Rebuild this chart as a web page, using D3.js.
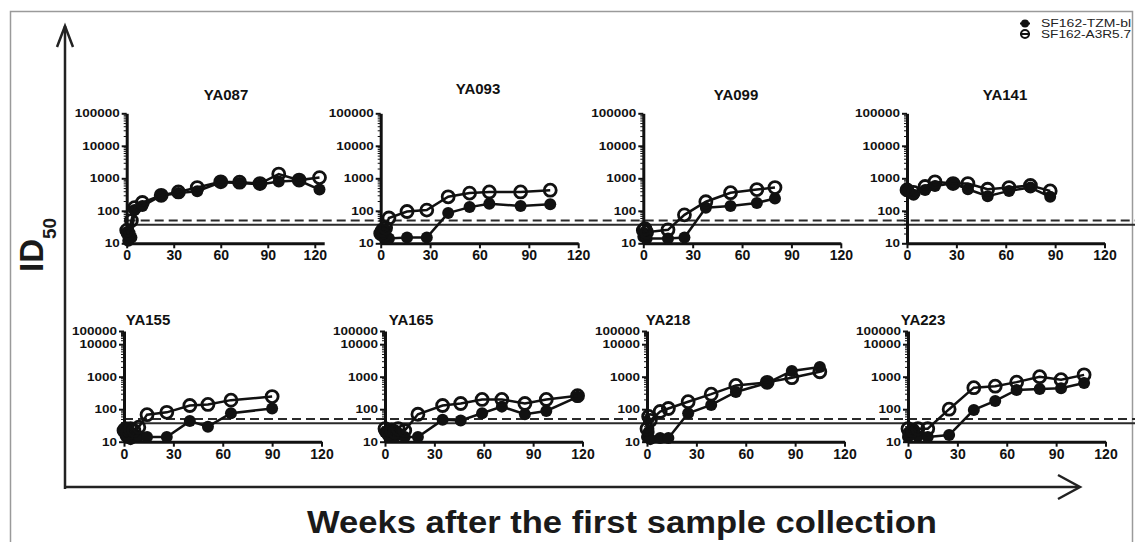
<!DOCTYPE html>
<html><head><meta charset="utf-8">
<script src="https://cdn.jsdelivr.net/npm/d3@7"></script>
<style>
html,body{margin:0;padding:0;background:#fff;}
svg{display:block;font-family:"Liberation Sans",Arial,Helvetica,sans-serif;}
</style></head>
<body><svg id="chart" width="1135" height="542"></svg>
<script>
// ---------- data ----------
const panelNames = ["YA087","YA093","YA099","YA141","YA155","YA165","YA218","YA223"];
const seriesNames = ["SF162-TZM-bl","SF162-A3R5.7"];
const xTickValues = [0,30,60,90,120];
const yTickValues = [10,100,1000,10000,100000];
const cutoffDashed = 50;
const cutoffSolid = 37;

const ya087Weeks = [0,1,3,5,10,22,33,45,60,72,85,97,110,123];
const ya087Tzm   = [22,12,15,105,140,290,350,400,750,720,650,800,850,450];
const ya087A3r   = [25,20,50,125,180,300,380,520,780,760,690,1350,880,1050];

const ya093Weeks = [0,1,2,3,5,16,28,41,54,66,85,103];
const ya093Tzm   = [22,18,15,25,14,15,15,85,130,165,140,160];
const ya093A3r   = [20,25,18,30,60,95,105,270,350,380,380,430];

const ya099Weeks = [0,1,2,15,25,38,53,69,80];
const ya099Tzm   = [16,20,14,14,15,125,140,175,240];
const ya099A3r   = [25,28,22,26,75,190,360,450,520];

const ya141Weeks = [0,4,11,17,28,37,49,62,75,87];
const ya141Tzm   = [420,310,440,580,700,460,280,410,520,270];
const ya141A3r   = [440,370,560,780,690,690,460,520,600,410];

const ya155Weeks = [0,1,2,4,6,9,14,26,40,51,65,90];
const ya155Tzm   = [25,15,20,12,18,15,14,14,43,29,75,105];
const ya155A3r   = [22,25,18,25,22,28,68,80,130,140,190,245];

const ya165Weeks = [0,2,4,6,8,12,20,35,46,59,71,85,98,117];
const ya165Tzm   = [20,15,25,14,18,14,14,47,45,75,120,70,88,240];
const ya165A3r   = [25,18,22,20,25,22,70,130,150,200,200,150,200,260];

const ya218Weeks = [0,1,2,8,13,25,39,54,73,88,105];
const ya218Tzm   = [14,20,12,13,13,75,135,340,640,1500,2000];
const ya218A3r   = [25,60,45,85,105,170,290,540,670,930,1420];

const ya223Weeks = [0,1,3,6,12,25,40,53,66,80,93,107];
const ya223Tzm   = [14,20,25,15,14,16,95,180,390,420,440,640];
const ya223A3r   = [25,18,22,25,25,100,460,510,680,1000,810,1140];

const allWeeks = [ya087Weeks,ya093Weeks,ya099Weeks,ya141Weeks,ya155Weeks,ya165Weeks,ya218Weeks,ya223Weeks];
const allTzm   = [ya087Tzm,ya093Tzm,ya099Tzm,ya141Tzm,ya155Tzm,ya165Tzm,ya218Tzm,ya223Tzm];
const allA3r   = [ya087A3r,ya093A3r,ya099A3r,ya141A3r,ya155A3r,ya165A3r,ya218A3r,ya223A3r];
const xMaxes   = [126,120,120,120,120,120,120,120];

// ---------- layout ----------
const svg = d3.select("#chart");
const FONT = '"Liberation Sans",Arial,Helvetica,sans-serif';
const axisX0 = [126.7,380.7,643.3,907,124,385,647,908];
const axisLen = 197.5;
const rowY = [
  {range:[243.3,210.8,178.3,145.8,113.3]},
  {range:[441.7,409.2,376.7,344.2,331]}
];
const titlePos = [[226,100],[478,94],[736,100],[1005,100],[148,325],[411,325],[668,325],[923,325]];

svg.append("rect").attr("x",0).attr("y",0).attr("width",1135).attr("height",542).attr("fill","#fff");
svg.append("rect").attr("x",10.5).attr("y",11.5).attr("width",1122).attr("height",620)
  .attr("fill","none").attr("stroke","#9a9a9a").attr("stroke-width",1.5);

// minor tick values
const minorTicks = [];
for (let k=1;k<5;k++) for (let m=2;m<10;m++) minorTicks.push(m*Math.pow(10,k));

// cutoff lines per row
rowY.forEach((r,ri)=>{
  const y = d3.scaleLog().domain(yTickValues).range(r.range);
  const x0 = axisX0[ri*4];
  svg.append("line").attr("x1",x0).attr("x2",1135).attr("y1",y(cutoffDashed)).attr("y2",y(cutoffDashed))
    .attr("stroke","#2a2a2a").attr("stroke-width",2).attr("stroke-dasharray","9,5");
  svg.append("line").attr("x1",x0).attr("x2",1135).attr("y1",y(cutoffSolid)).attr("y2",y(cutoffSolid))
    .attr("stroke","#2a2a2a").attr("stroke-width",2);
});

panelNames.forEach((name,i)=>{
  const row = Math.floor(i/4);
  const x = d3.scaleLinear().domain([0,xMaxes[i]]).range([axisX0[i],axisX0[i]+axisLen]);
  const y = d3.scaleLog().domain(yTickValues).range(rowY[row].range);
  const g = svg.append("g");

  // minor y ticks
  const minor = g.append("g").attr("transform",`translate(${axisX0[i]},0)`)
    .call(d3.axisLeft(y).tickValues(minorTicks).tickSize(3).tickFormat(""));
  minor.select(".domain").remove();
  minor.selectAll("line").attr("stroke","#111").attr("stroke-width",1);

  const ya = g.append("g").attr("transform",`translate(${axisX0[i]},0)`)
    .call(d3.axisLeft(y).tickValues(yTickValues).tickSize(5).tickSizeOuter(0).tickPadding(2).tickFormat(d3.format("d")));
  ya.select(".domain").attr("stroke","#111").attr("stroke-width",3);
  ya.selectAll(".tick line").attr("stroke","#111").attr("stroke-width",2);
  ya.selectAll("text").attr("font-family",FONT).attr("font-weight","bold").attr("font-size",11.5).attr("fill","#111")
    .attr("textLength",d=>String(d).length*7.5).attr("lengthAdjust","spacingAndGlyphs");

  const xa = g.append("g").attr("transform",`translate(0,${y(10)})`)
    .call(d3.axisBottom(x).tickValues(xTickValues).tickSize(5).tickSizeOuter(0).tickPadding(2));
  xa.select(".domain").attr("stroke","#111").attr("stroke-width",3);
  xa.selectAll(".tick line").attr("stroke","#111").attr("stroke-width",2);
  xa.selectAll("text").attr("font-family",FONT).attr("font-weight","bold").attr("font-size",14).attr("fill","#111");

  g.append("text").attr("x",titlePos[i][0]).attr("y",titlePos[i][1]).attr("text-anchor","middle")
    .attr("font-family",FONT).attr("font-weight","bold").attr("font-size",15).attr("fill","#111").text(name);

  const wk = allWeeks[i];
  const tz = wk.map((w,j)=>[w,allTzm[i][j]]);
  const a3 = wk.map((w,j)=>[w,allA3r[i][j]]);
  const line = d3.line().x(d=>x(d[0])).y(d=>y(d[1]));

  g.append("path").datum(tz).attr("d",line).attr("fill","none").attr("stroke","#111").attr("stroke-width",2.5);
  g.selectAll(".tz").data(tz).join("circle").attr("class","tz")
    .attr("cx",d=>x(d[0])).attr("cy",d=>y(d[1])).attr("r",6).attr("fill","#111");
  g.append("path").datum(a3).attr("d",line).attr("fill","none").attr("stroke","#111").attr("stroke-width",2.5);
  g.selectAll(".a3").data(a3).join("circle").attr("class","a3")
    .attr("cx",d=>x(d[0])).attr("cy",d=>y(d[1])).attr("r",6).attr("fill","none")
    .attr("stroke","#111").attr("stroke-width",2.8);
});

// big axes with arrows
const big = svg.append("g").attr("stroke","#222").attr("stroke-width",2.5).attr("fill","none");
big.append("line").attr("x1",65).attr("y1",489).attr("x2",65).attr("y2",26);
big.append("polyline").attr("points","57,47 65,26 73,47");
big.append("line").attr("x1",64).attr("y1",487).attr("x2",1079).attr("y2",487);
big.append("polyline").attr("points","1058,475 1080,487 1058,499");

// axis titles
svg.append("text").attr("x",622).attr("y",533).attr("text-anchor","middle")
  .attr("font-family",FONT).attr("font-weight","bold").attr("font-size",32).attr("fill","#1a1a1a")
  .attr("textLength",630).attr("lengthAdjust","spacingAndGlyphs")
  .text("Weeks after the first sample collection");
const idl = svg.append("text").attr("transform","translate(43,272) rotate(-90)")
  .attr("font-family",FONT).attr("font-weight","bold").attr("font-size",33).attr("fill","#1a1a1a");
idl.append("tspan").text("ID");
idl.append("tspan").attr("dy",13).attr("font-size",19).text("50");

// legend
const lg = svg.append("g");
seriesNames.forEach((s,k)=>{
  const cy = 23.5 + k*10.5;
  lg.append("line").attr("x1",1020).attr("x2",1030).attr("y1",cy).attr("y2",cy).attr("stroke","#111").attr("stroke-width",2);
  lg.append("circle").attr("cx",1025).attr("cy",cy).attr("r",4)
    .attr("fill",k===0?"#111":"none").attr("stroke","#111").attr("stroke-width",k===0?0:2);
  lg.append("text").attr("x",1041).attr("y",cy+3.5).attr("font-family",FONT).attr("font-size",10).attr("fill","#222")
    .attr("textLength",90).attr("lengthAdjust","spacingAndGlyphs").text(s);
});
</script></body></html>
